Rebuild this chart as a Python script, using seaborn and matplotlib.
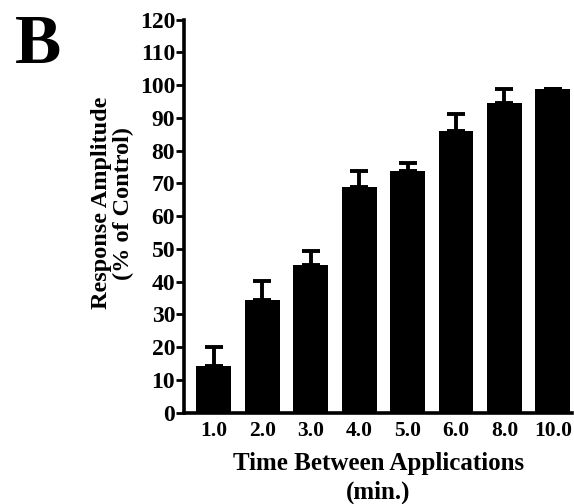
import matplotlib
matplotlib.use("Agg")
import matplotlib.pyplot as plt
import seaborn as sns
import pandas as pd
import numpy as np

# Recovery of response amplitude vs. interval between applications
intervals = ["1.0", "2.0", "3.0", "4.0", "5.0", "6.0", "8.0", "10.0"]
amplitude = [14.3, 34.5, 45.2, 68.8, 73.8, 86.0, 94.5, 98.8]
sem = [5.7, 5.8, 4.3, 5.0, 2.4, 5.1, 4.4, 0.0]
y_ticks = list(range(0, 121, 10))

sns.set_theme(style="ticks")
plt.rcParams["font.family"] = ["Liberation Serif", "DejaVu Serif"]
plt.rcParams["font.weight"] = "bold"
for key in ["text.color", "axes.labelcolor", "xtick.color", "ytick.color",
            "axes.edgecolor"]:
    plt.rcParams[key] = "black"

df = pd.DataFrame({"interval": intervals, "amplitude": amplitude})

fig = plt.figure(figsize=(5.74, 5.04), dpi=100)
ax = fig.add_axes([0.321, 0.181, 0.676, 0.78])

sns.barplot(data=df, x="interval", y="amplitude", order=intervals,
            color="black", width=0.72, errorbar=None, ax=ax,
            edgecolor="black", linewidth=0)

xpos = np.arange(len(intervals))
ax.errorbar(xpos, amplitude, yerr=[np.zeros(len(sem)), sem], fmt="none",
            ecolor="black", elinewidth=2.8, capsize=6.5, capthick=2.8)

ax.set_ylim(0, 120)
ax.set_xlim(-0.61, 7.4)
ax.set_yticks(y_ticks)
ax.set_yticklabels([str(t) for t in y_ticks], fontsize=17, fontweight="bold")
ax.set_xticks(xpos)
ax.set_xticklabels(intervals, fontsize=15.5, fontweight="bold")

ax.tick_params(axis="y", direction="out", length=6, width=2, pad=0.5)
ax.tick_params(axis="x", length=0, pad=6)

sns.despine(ax=ax, top=True, right=True)
ax.spines["left"].set_linewidth(2.6)
ax.spines["bottom"].set_linewidth(2.6)

ax.set_xlabel("Time Between Applications\n(min.)", fontsize=18,
              fontweight="bold", labelpad=8, linespacing=1.3)
ax.set_ylabel("Response Amplitude\n(% of Control)", fontsize=17.5,
              fontweight="bold", linespacing=1.05)
ax.yaxis.set_label_coords(-0.13, 0.533)

fig.text(0.026, 0.875, "B", fontsize=50, fontweight="bold",
         va="baseline", ha="left")

fig.savefig("out.png", dpi=100)
